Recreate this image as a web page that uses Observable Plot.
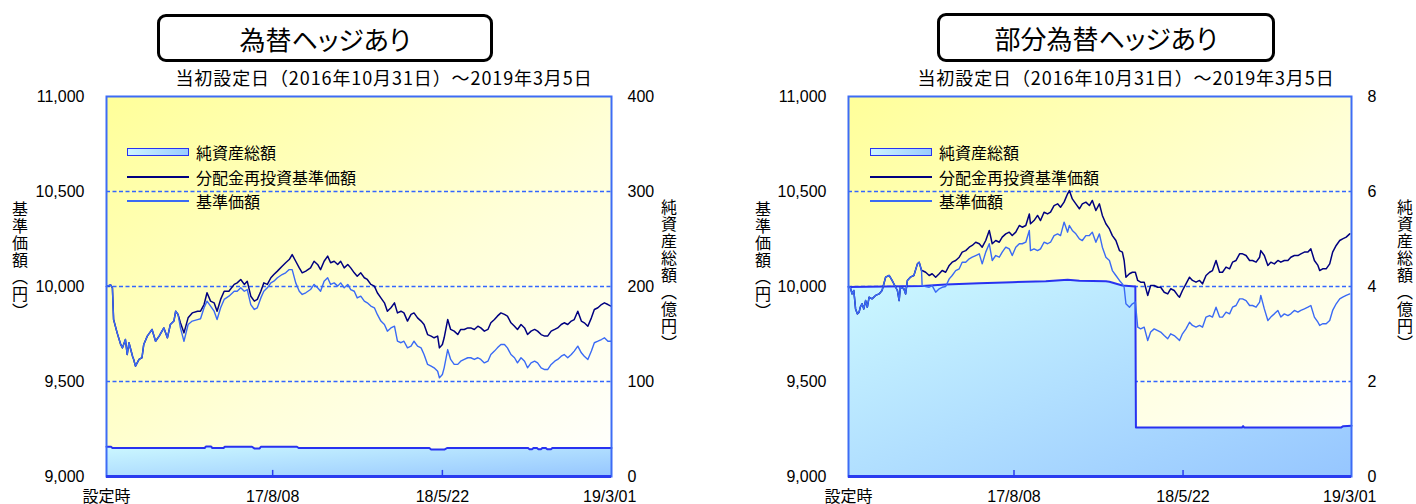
<!DOCTYPE html>
<html><head><meta charset="utf-8">
<script src="https://cdn.jsdelivr.net/npm/d3@7"></script>
<script src="https://cdn.jsdelivr.net/npm/@observablehq/plot@0.6"></script>
<style>
body{margin:0;background:#fff;}
#wrap{position:relative;width:1416px;height:504px;overflow:hidden;font-family:"Noto Sans CJK JP",sans-serif;color:#000;}
.plot{position:absolute;top:0;width:708px;height:504px;}
.tbox{position:absolute;box-sizing:border-box;border:3px solid #000;border-radius:9px;display:flex;align-items:center;justify-content:center;font-size:26px;font-feature-settings:"palt";background:#fff;}
.sub{position:absolute;width:520px;text-align:center;font-size:18px;line-height:22px;letter-spacing:0.9px;}
.vt{position:absolute;writing-mode:vertical-rl;text-orientation:upright;font-size:16px;line-height:20px;width:20px;letter-spacing:1px;}
.lg{position:absolute;font-size:16px;line-height:20px;white-space:nowrap;}
.sw{position:absolute;box-sizing:border-box;}
</style></head>
<body><div id="wrap"></div>
<script>
// ---------- data ----------
// x positions are days since the inception date 2016-10-31
const inception = "2016-10-31";
const domainEnd = "2019-03-04";
const xTickDates = ["2016-10-31", "2017-08-08", "2018-05-22", "2019-03-01"];
const xTickLabels = ["設定時", "17/8/08", "18/5/22", "19/3/01"];
const innerTickDates = ["2017-08-08", "2018-05-22"];
const yTicks = [9000, 9500, 10000, 10500, 11000];
const gridValues = [9500, 10000, 10500];
const seriesNames = ["純資産総額", "分配金再投資基準価額", "基準価額"];

// 為替ヘッジあり : common part (before the first distribution)
const lCommon = [[0,10000],[7,10008],[10,9993],[12,9826],[18,9756],[24,9695],[27,9677],[32,9721],[35,9642],[38,9704],[44,9633],[46,9616],[49,9581],[55,9616],[60,9625],[63,9695],[69,9739],[75,9765],[77,9774],[83,9712],[89,9739],[97,9782],[103,9730],[108,9800],[114,9818],[117,9870],[121,9853]];
const lReinvestTail = [[125,9809],[131,9756],[138,9835],[145,9861],[154,9870],[159,9870],[165,9905],[170,9967],[176,9923],[182,9914],[187,9870],[193,9932],[199,9975],[207,9975],[216,10011],[221,10019],[227,10037],[233,10011],[238,10028],[244,9949],[250,9923],[255,9932],[261,9975],[266,10019],[272,10011],[278,10046],[283,10063],[289,10081],[297,10107],[303,10125],[309,10142],[314,10168],[320,10133],[326,10098],[331,10072],[337,10081],[345,10098],[351,10133],[357,10116],[362,10089],[368,10133],[374,10160],[379,10125],[385,10133],[391,10116],[396,10133],[402,10098],[408,10116],[413,10098],[419,10072],[424,10054],[430,10072],[436,10046],[441,10037],[447,10011],[453,10002],[458,9967],[464,9940],[470,9914],[475,9870],[481,9888],[487,9914],[492,9861],[498,9870],[503,9861],[509,9818],[515,9853],[520,9861],[526,9835],[532,9818],[537,9800],[543,9747],[549,9739],[554,9730],[560,9739],[563,9677],[568,9695],[571,9730],[577,9826],[582,9774],[588,9765],[594,9747],[599,9774],[605,9774],[611,9782],[616,9782],[622,9774],[628,9791],[633,9782],[639,9765],[645,9774],[650,9809],[656,9826],[661,9844],[667,9861],[673,9853],[678,9844],[684,9809],[690,9791],[695,9774],[701,9800],[707,9782],[712,9747],[718,9765],[724,9774],[729,9765],[735,9747],[741,9739],[746,9739],[752,9765],[758,9774],[763,9782],[769,9800],[774,9809],[780,9800],[786,9818],[791,9826],[797,9870],[803,9818],[808,9809],[814,9791],[820,9835],[825,9879],[831,9888],[837,9905],[842,9914],[848,9905],[853,9897]];
const lPriceTail = [[125,9782],[131,9712],[138,9800],[145,9818],[154,9826],[159,9830],[165,9888],[170,9923],[176,9897],[182,9870],[187,9826],[193,9888],[199,9932],[207,9949],[216,9975],[221,9975],[227,9993],[233,9975],[238,9984],[244,9905],[250,9879],[255,9888],[261,9940],[266,9975],[272,9993],[278,10019],[283,10028],[289,10046],[297,10063],[303,10072],[309,10089],[314,10089],[320,10019],[326,9975],[331,9958],[337,9967],[345,9984],[351,10011],[357,9993],[362,9975],[368,10028],[374,10046],[379,10011],[385,10019],[391,10002],[396,10019],[402,9993],[408,10011],[413,9984],[419,9975],[424,9940],[430,9949],[436,9923],[441,9914],[447,9897],[453,9888],[458,9853],[464,9818],[470,9800],[475,9765],[481,9782],[487,9791],[492,9712],[498,9704],[503,9712],[509,9677],[515,9686],[520,9712],[526,9686],[532,9677],[537,9642],[543,9590],[549,9581],[554,9572],[560,9554],[563,9519],[568,9537],[571,9572],[577,9668],[582,9616],[588,9590],[594,9590],[599,9607],[605,9616],[611,9625],[616,9625],[622,9616],[628,9625],[633,9616],[639,9598],[645,9607],[650,9642],[656,9660],[661,9677],[667,9695],[673,9695],[678,9677],[684,9642],[690,9625],[695,9598],[701,9625],[707,9607],[712,9572],[718,9598],[724,9607],[729,9598],[735,9572],[741,9563],[746,9563],[752,9590],[758,9607],[763,9616],[769,9633],[774,9642],[780,9625],[786,9642],[791,9660],[797,9686],[803,9651],[808,9633],[814,9616],[820,9660],[825,9704],[831,9712],[837,9721],[842,9730],[848,9712],[853,9712]];
// 純資産総額 (億円)
const lFund = [[0,31.2],[8,31.2],[10,30.0],[166,30.0],[168,31.5],[177,31.5],[179,30.0],[198,30.0],[200,31.3],[246,31.3],[250,29.6],[259,29.6],[261,31.3],[322,31.3],[325,30.0],[546,30.0],[549,28.5],[572,28.5],[576,30.0],[713,30.0],[715,28.8],[720,28.8],[722,30.0],[728,30.0],[730,28.8],[735,28.8],[737,30.0],[743,30.0],[745,28.8],[752,28.8],[754,30.0],[854,30.0]];

// 部分為替ヘッジあり
const rCommon = [[0,10000],[3,9996],[6,9961],[9,9979],[12,9882],[15,9856],[18,9865],[20,9891],[23,9909],[26,9882],[29,9926],[32,9891],[35,9944],[40,9935],[46,9953],[52,9961],[57,9979],[63,10049],[69,10058],[74,10032],[80,9996],[83,9979],[86,9926],[88,9996],[94,9988],[97,9961],[100,10032],[105,10049],[111,10058],[117,10119],[120,10128],[124,10084]];
const rReinvestTail = [[125,10084],[131,10075],[137,10058],[142,10067],[148,10049],[154,10067],[159,10084],[165,10075],[171,10111],[176,10128],[182,10137],[188,10154],[193,10181],[199,10189],[205,10207],[210,10216],[216,10233],[222,10225],[227,10207],[233,10242],[239,10295],[244,10225],[250,10242],[256,10233],[261,10260],[267,10277],[273,10286],[278,10268],[284,10286],[290,10321],[295,10312],[301,10321],[307,10382],[309,10330],[315,10347],[321,10374],[326,10347],[332,10391],[338,10382],[343,10391],[349,10426],[355,10435],[360,10417],[366,10444],[372,10488],[375,10505],[380,10461],[386,10435],[392,10409],[397,10435],[403,10444],[409,10426],[414,10453],[420,10400],[426,10435],[431,10374],[437,10330],[443,10303],[448,10268],[454,10242],[460,10189],[465,10181],[468,10137],[471,10049],[477,10067],[482,10075],[487,10075],[491,10032],[496,10023],[502,10023],[508,9953],[513,10005],[519,10005],[525,9996],[530,9996],[536,9970],[542,9961],[547,9988],[553,9979],[559,9953],[562,9944],[567,9979],[573,10014],[579,10049],[584,10032],[590,10023],[596,10032],[601,10014],[607,10058],[613,10075],[618,10084],[624,10137],[630,10075],[635,10075],[641,10102],[647,10093],[652,10128],[658,10137],[664,10172],[669,10172],[675,10163],[681,10137],[686,10137],[692,10128],[698,10154],[700,10189],[706,10163],[712,10111],[717,10128],[723,10119],[729,10137],[734,10128],[740,10137],[746,10137],[751,10154],[757,10163],[763,10163],[768,10172],[774,10181],[780,10181],[785,10198],[791,10137],[797,10111],[800,10084],[805,10093],[811,10093],[817,10119],[822,10181],[828,10216],[834,10242],[839,10251],[845,10260],[851,10277]];
const rPriceTail = [[125,10005],[131,10000],[137,9996],[142,10005],[148,9970],[154,9988],[159,9996],[165,10000],[171,10040],[176,10058],[182,10084],[188,10093],[193,10128],[199,10128],[205,10146],[210,10154],[216,10163],[222,10172],[227,10119],[233,10181],[239,10225],[244,10137],[250,10163],[256,10154],[261,10181],[267,10207],[273,10198],[278,10163],[284,10207],[290,10225],[295,10225],[301,10233],[307,10295],[309,10189],[315,10198],[321,10189],[326,10198],[332,10233],[338,10225],[343,10233],[349,10268],[355,10277],[360,10268],[366,10339],[372,10286],[375,10321],[380,10295],[386,10277],[392,10251],[397,10242],[403,10268],[409,10268],[414,10286],[420,10233],[426,10277],[431,10207],[437,10154],[443,10137],[448,10084],[454,10058],[460,10032],[465,10014],[468,9996],[471,9909],[477,9891],[482,9909],[487,9918],[491,9786],[496,9777],[502,9786],[508,9716],[513,9760],[519,9777],[525,9768],[530,9760],[536,9742],[542,9725],[547,9751],[553,9742],[559,9725],[562,9716],[567,9751],[573,9777],[579,9812],[584,9795],[590,9786],[596,9795],[601,9786],[607,9839],[613,9847],[618,9839],[624,9891],[630,9839],[635,9839],[641,9865],[647,9856],[652,9891],[658,9900],[664,9935],[669,9935],[675,9926],[681,9900],[686,9900],[692,9891],[698,9918],[700,9953],[706,9882],[712,9821],[717,9839],[723,9856],[729,9874],[734,9839],[740,9856],[746,9847],[751,9856],[757,9874],[763,9865],[768,9874],[774,9882],[780,9891],[785,9900],[791,9839],[797,9812],[800,9795],[805,9804],[811,9804],[817,9821],[822,9874],[828,9909],[834,9935],[839,9944],[845,9953],[851,9961]];
const rFund = [[0,3.99],[63,4.00],[125,4.01],[165,4.04],[222,4.07],[278,4.09],[335,4.11],[372,4.14],[392,4.12],[437,4.11],[443,4.10],[465,4.02],[487,4.00],[488,1.03],[668,1.03],[670,1.06],[672,1.03],[836,1.03],[840,1.06],[854,1.07]];

// ---------- drawing ----------
const C = {grid:"#3366ff", frame:"#3d6cf5", axis:"#2a3cf0", navy:"#000080", blue:"#3a6af5", fund:"#2832f0"};
const t0 = new Date(inception + "T00:00:00Z");
const toDate = d => new Date(t0.getTime() + d * 864e5);
const parse = s => new Date(s + "T00:00:00Z");

function gradients(id) {
  return () => {
    const g = document.createElementNS("http://www.w3.org/2000/svg", "defs");
    g.innerHTML = `<linearGradient id="bg${id}" x1="0" y1="0" x2="1" y2="1">
        <stop offset="0" stop-color="#ffff99"/><stop offset="0.55" stop-color="#ffffd8"/><stop offset="1" stop-color="#ffffff"/></linearGradient>
      <linearGradient id="fa${id}" x1="0" y1="0" x2="1" y2="1">
        <stop offset="0" stop-color="#ccf8ff"/><stop offset="1" stop-color="#96c6ff"/></linearGradient>`;
    return g;
  };
}

function makePanel(cfg) {
  const reinvest = cfg.common.concat(cfg.reinvestTail);
  const price = cfg.common.concat(cfg.priceTail);
  const k = 2000 / cfg.fundMax;
  const fy = v => 9000 + v * k;
  const labelMap = new Map(xTickDates.map((d, i) => [+parse(d), xTickLabels[i]]));
  const svg = Plot.plot({
    width: 708, height: 504,
    marginLeft: cfg.ml, marginRight: cfg.mr, marginTop: 96, marginBottom: 28,
    style: {background: "transparent", fontFamily: "'Liberation Sans', Arial, 'Noto Sans CJK JP', sans-serif", fontSize: "16px", color: "#000", overflow: "visible"},
    x: {type: "utc", domain: [parse(inception), parse(domainEnd)], axis: null},
    y: {domain: [9000, 11000]},
    marks: [
      gradients(cfg.id),
      Plot.frame({fill: `url(#bg${cfg.id})`, stroke: "none"}),
      Plot.ruleY(gridValues, {stroke: C.grid, strokeWidth: 1.5, strokeDasharray: "4,2.5"}),
      Plot.areaY(cfg.fund, {x: d => toDate(d[0]), y1: 9000, y2: d => fy(d[1]), fill: `url(#fa${cfg.id})`}),
      Plot.line(cfg.fund, {x: d => toDate(d[0]), y: d => fy(d[1]), stroke: C.fund, strokeWidth: 2}),
      Plot.line(reinvest, {x: d => toDate(d[0]), y: d => d[1], stroke: C.navy, strokeWidth: 1.5}),
      Plot.line(price, {x: d => toDate(d[0]), y: d => d[1], stroke: C.blue, strokeWidth: 1.4}),
      Plot.ruleX(innerTickDates.map(parse), {y1: 9000, y2: 9032, stroke: C.axis, strokeWidth: 1.5}),
      Plot.frame({stroke: C.frame, strokeWidth: 2}),
      Plot.ruleY([9000], {stroke: C.axis, strokeWidth: 3}),
      Plot.axisY({anchor: "left", ticks: yTicks, tickSize: 0, tickPadding: 22, tickFormat: d3.format(","), label: null}),
      Plot.axisY({anchor: "right", ticks: yTicks, tickSize: 0, tickPadding: 16, tickFormat: d => String(+((d - 9000) / k).toFixed(2)), label: null}),
      Plot.text(xTickDates.map(parse), {x: d => d, text: d => labelMap.get(+d), frameAnchor: "bottom", lineAnchor: "top", dy: 14, ariaLabel: "xlabels"})
    ]
  });
  svg.querySelectorAll('[aria-label="xlabels"] text').forEach(t => t.style.letterSpacing = "1.4px");
  return svg;
}

const wrap = document.getElementById("wrap");
function add(html) { wrap.insertAdjacentHTML("beforeend", html); }

const panels = [
  {id: "L", left: 0, ml: 106, mr: 97, fundMax: 400, common: lCommon, reinvestTail: lReinvestTail, priceTail: lPriceTail, fund: lFund,
   title: "為替ヘッジあり", box: [157, 14, 336, 48], subC: 384, vtL: 10, vtR: 659, lgX: 127},
  {id: "R", left: 708, ml: 140, mr: 65, fundMax: 8, common: rCommon, reinvestTail: rReinvestTail, priceTail: rPriceTail, fund: rFund,
   title: "部分為替ヘッジあり", box: [937, 13, 338, 49], subC: 1126, vtL: 753, vtR: 1395, lgX: 870}
];

for (const p of panels) {
  const div = document.createElement("div");
  div.className = "plot";
  div.style.left = p.left + "px";
  div.appendChild(makePanel(p));
  wrap.appendChild(div);
  add(`<div class="tbox" style="left:${p.box[0]}px;top:${p.box[1]}px;width:${p.box[2]}px;height:${p.box[3]}px">${p.title}</div>`);
  add(`<div class="sub" style="left:${p.subC - 260}px;top:66px">当初設定日（2016年10月31日）～2019年3月5日</div>`);
  add(`<div class="vt" style="left:${p.vtL}px;top:201px">基準価額（円）</div>`);
  add(`<div class="vt" style="left:${p.vtR}px;top:199px">純資産総額（億円）</div>`);
  const x = p.lgX;
  add(`<div class="sw" style="left:${x}px;top:148px;width:62px;height:8px;border:1.5px solid ${C.fund};background:linear-gradient(90deg,#ccf4ff,#99ccff)"></div>`);
  add(`<div class="sw" style="left:${x}px;top:176px;width:62px;height:1.5px;background:${C.navy}"></div>`);
  add(`<div class="sw" style="left:${x}px;top:200px;width:62px;height:1.5px;background:${C.blue}"></div>`);
  add(`<div class="lg" style="left:${x + 69}px;top:142px">${seriesNames[0]}</div>`);
  add(`<div class="lg" style="left:${x + 69}px;top:167px">${seriesNames[1]}</div>`);
  add(`<div class="lg" style="left:${x + 69}px;top:191px">${seriesNames[2]}</div>`);
}
</script>
</body></html>
